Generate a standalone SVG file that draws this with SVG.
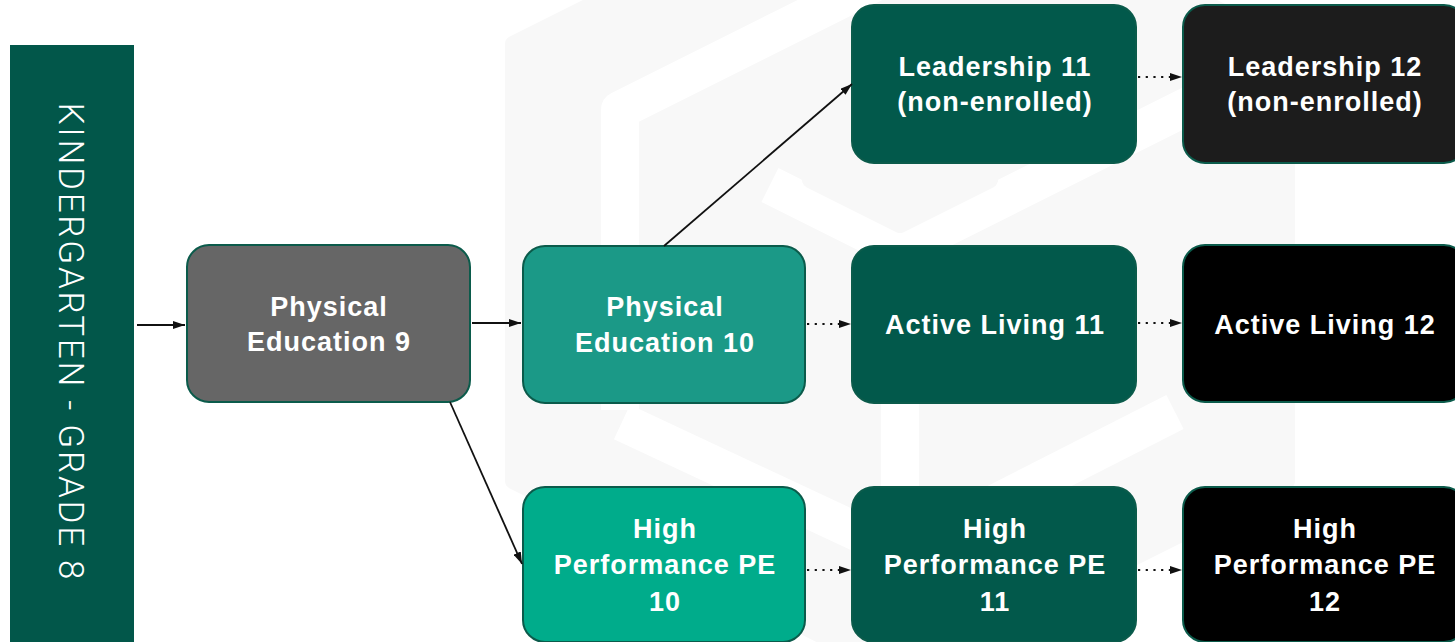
<svg xmlns="http://www.w3.org/2000/svg" width="1455" height="642" viewBox="0 0 1455 642">
  <defs>
    <marker id="arr" viewBox="0 0 12 8" markerWidth="12" markerHeight="8" refX="12" refY="4" orient="auto" markerUnits="userSpaceOnUse">
      <path d="M0,0 L12,4 L0,8 z" fill="#111111"/>
    </marker>
    <style>
      .node { stroke: #0b5b4b; stroke-width: 2; }
      .lbl { font-family: "Liberation Sans", Arial, sans-serif; font-weight: bold; font-size: 27px; letter-spacing: 1px; fill: #ffffff; text-anchor: middle; }
      .solid { stroke: #111111; stroke-width: 1.8; fill: none; marker-end: url(#arr); }
      .dot { stroke: #111111; stroke-width: 2; fill: none; stroke-dasharray: 2.2 5.5; marker-end: url(#arr); }
      .wm { fill: #f8f8f8; stroke: #f8f8f8; stroke-width: 16; stroke-linejoin: round; }
      .wb { fill: none; stroke: #ffffff; stroke-width: 38; stroke-linejoin: round; stroke-linecap: butt; }
    </style>
  </defs>
  <rect x="0" y="0" width="1455" height="642" fill="#ffffff"/>

  <g id="watermark">
    <polygon class="wm" points="513,44 900,-150 1287,44 1287,481 900,675 513,481"/>
    <path class="wb" d="M620,410 L620,110 L880,-20"/>
    <path class="wb" d="M622,422 L900,552 L1175,412"/>
    <path class="wb" d="M900,545 L900,250 L770,185"/>
    <path class="wb" d="M900,250 L1210,95"/>
    <polygon class="wm" points="810,180 900,135 990,180 900,225" stroke-width="6"/>
  </g>

  <g id="sidebar">
    <rect x="10" y="45" width="124" height="600" fill="#02574a"/>
    <text transform="translate(59,341) rotate(90)" font-family="Roboto, 'Liberation Sans', sans-serif" font-weight="300" font-size="35" fill="#ffffff" text-anchor="middle" textLength="477" lengthAdjust="spacing">KINDERGARTEN - GRADE 8</text>
  </g>

  <g id="pe9">
    <rect class="node" x="187" y="245" width="283" height="157" rx="22" fill="#666666"/>
    <text class="lbl" x="329" y="316">Physical</text>
    <text class="lbl" x="329" y="351">Education 9</text>
  </g>

  <g id="pe10">
    <rect class="node" x="523" y="246" width="282" height="157" rx="22" fill="#1b9987"/>
    <text class="lbl" x="665" y="316">Physical</text>
    <text class="lbl" x="665" y="352">Education 10</text>
  </g>

  <g id="hppe10">
    <rect class="node" x="523" y="487" width="282" height="155" rx="22" fill="#00ac8b"/>
    <text class="lbl" x="665" y="538">High</text>
    <text class="lbl" x="665" y="574">Performance PE</text>
    <text class="lbl" x="665" y="611">10</text>
  </g>

  <g id="leadership11">
    <rect class="node" x="852" y="5" width="284" height="158" rx="22" fill="#02594b"/>
    <text class="lbl" x="995" y="76">Leadership 11</text>
    <text class="lbl" x="995" y="111">(non-enrolled)</text>
  </g>

  <g id="activeliving11">
    <rect class="node" x="852" y="246" width="284" height="157" rx="22" fill="#02594b"/>
    <text class="lbl" x="995" y="334">Active Living 11</text>
  </g>

  <g id="hppe11">
    <rect class="node" x="852" y="487" width="284" height="155" rx="22" fill="#02594b"/>
    <text class="lbl" x="995" y="538">High</text>
    <text class="lbl" x="995" y="574">Performance PE</text>
    <text class="lbl" x="995" y="611">11</text>
  </g>

  <g id="leadership12">
    <rect class="node" x="1183" y="5" width="283" height="158" rx="22" fill="#1c1c1c"/>
    <text class="lbl" x="1325" y="76">Leadership 12</text>
    <text class="lbl" x="1325" y="111">(non-enrolled)</text>
  </g>

  <g id="activeliving12">
    <rect class="node" x="1183" y="245" width="283" height="157" rx="22" fill="#000000"/>
    <text class="lbl" x="1325" y="334">Active Living 12</text>
  </g>

  <g id="hppe12">
    <rect class="node" x="1183" y="487" width="283" height="155" rx="22" fill="#000000"/>
    <text class="lbl" x="1325" y="538">High</text>
    <text class="lbl" x="1325" y="574">Performance PE</text>
    <text class="lbl" x="1325" y="611">12</text>
  </g>

  <g id="connectors">
    <line class="solid" x1="137" y1="325" x2="185" y2="325"/>
    <line class="solid" x1="472" y1="323" x2="521" y2="323"/>
    <line class="solid" x1="450" y1="402" x2="522" y2="564"/>
    <line class="solid" x1="664" y1="246" x2="852" y2="84"/>
    <line class="dot" x1="807" y1="324" x2="851" y2="324"/>
    <line class="dot" x1="1138" y1="77" x2="1182" y2="77"/>
    <line class="dot" x1="1138" y1="323" x2="1182" y2="323"/>
    <line class="dot" x1="807" y1="570" x2="851" y2="570"/>
    <line class="dot" x1="1138" y1="570" x2="1182" y2="570"/>
  </g>
</svg>
